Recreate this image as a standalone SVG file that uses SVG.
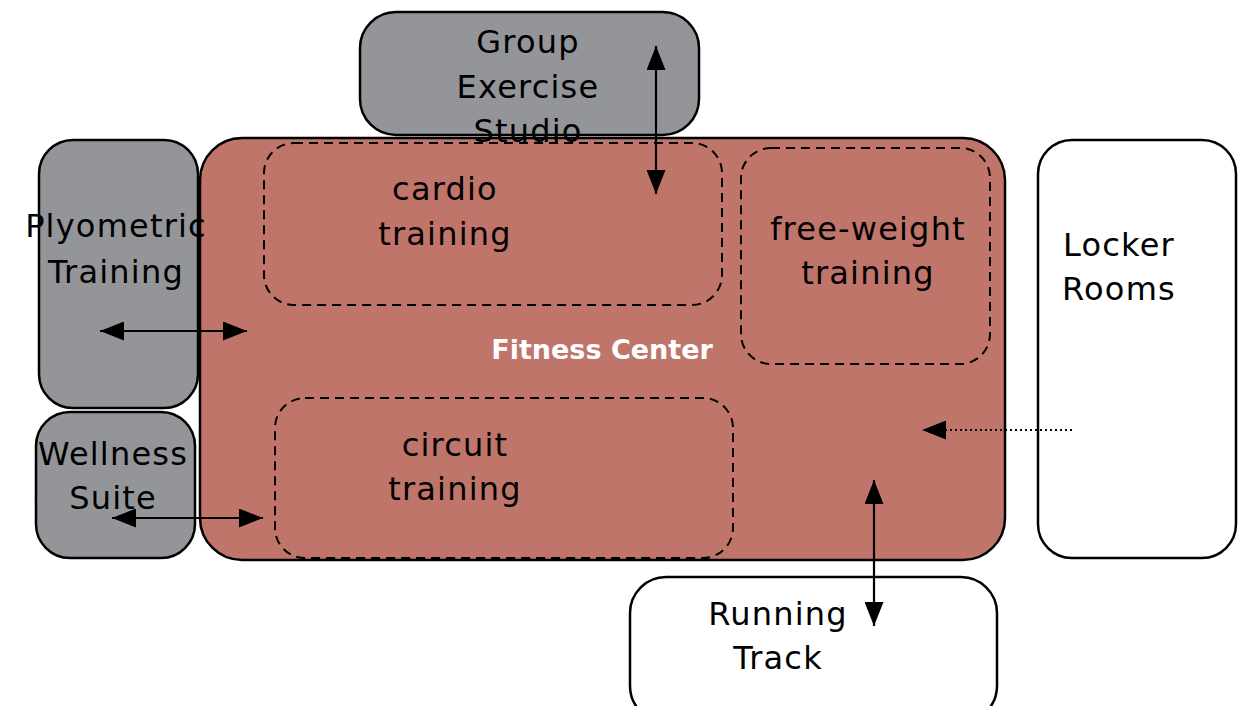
<svg xmlns="http://www.w3.org/2000/svg" width="1247" height="706" viewBox="0 0 1247 706">
<defs>
<style>
.box{stroke:#000;stroke-width:2.5}
.gray{fill:#939598}
.white{fill:#fff}
.main{fill:#c0756a}
.zone{fill:none;stroke:#000;stroke-width:2;stroke-dasharray:9 6}
.lbl{font-family:"DejaVu Sans","Liberation Sans",sans-serif;font-size:32px;letter-spacing:1.2px;fill:#000;text-anchor:middle}
.title{font-family:"DejaVu Sans","Liberation Sans",sans-serif;font-size:27px;font-weight:bold;fill:#fff;text-anchor:middle}
.con{stroke:#000;stroke-width:2.2;fill:none}
.dot{stroke:#000;stroke-width:2.2;fill:none;stroke-dasharray:2 3}
</style>
<marker id="ah" viewBox="0 0 24 19" refX="24" refY="9.5" markerWidth="24" markerHeight="19" markerUnits="userSpaceOnUse" orient="auto-start-reverse">
<path d="M0,0 L24,9.5 L0,19 Z" fill="#000"/>
</marker>
</defs>

<g id="fitness-center">
<rect class="box main" x="200" y="138" width="805" height="422" rx="42"/>
<text class="title" x="602" y="359">Fitness Center</text>
</g>

<g id="group-exercise-studio">
<rect class="box gray" x="360" y="12" width="339" height="123" rx="36"/>
<text class="lbl" x="528" y="53">Group</text>
<text class="lbl" x="528" y="98">Exercise</text>
<text class="lbl" x="528" y="142">Studio</text>
</g>

<g id="plyometric-training">
<rect class="box gray" x="39" y="140" width="159" height="268" rx="34"/>
<text class="lbl" x="116" y="237">Plyometric</text>
<text class="lbl" x="116" y="283">Training</text>
</g>

<g id="wellness-suite">
<rect class="box gray" x="36" y="412" width="159" height="146" rx="34"/>
<text class="lbl" x="113" y="465">Wellness</text>
<text class="lbl" x="113" y="509">Suite</text>
</g>

<g id="locker-rooms">
<rect class="box white" x="1038" y="140" width="198" height="418" rx="34"/>
<text class="lbl" x="1119" y="256">Locker</text>
<text class="lbl" x="1119" y="300">Rooms</text>
</g>

<g id="running-track">
<rect class="box white" x="630" y="577" width="367" height="145" rx="36"/>
<text class="lbl" x="778" y="625">Running</text>
<text class="lbl" x="778" y="669">Track</text>
</g>

<g id="cardio-training">
<rect class="zone" x="264" y="143" width="458" height="162" rx="30"/>
<text class="lbl" x="445" y="200">cardio</text>
<text class="lbl" x="445" y="245">training</text>
</g>

<g id="free-weight-training">
<rect class="zone" x="741" y="148" width="249" height="216" rx="30"/>
<text class="lbl" x="868" y="240">free-weight</text>
<text class="lbl" x="868" y="284">training</text>
</g>

<g id="circuit-training">
<rect class="zone" x="275" y="398" width="458" height="160" rx="30"/>
<text class="lbl" x="455" y="456">circuit</text>
<text class="lbl" x="455" y="500">training</text>
</g>

<g id="connectors">
<line class="con" x1="656" y1="46" x2="656" y2="194" marker-start="url(#ah)" marker-end="url(#ah)"/>
<line class="con" x1="100" y1="331" x2="247" y2="331" marker-start="url(#ah)" marker-end="url(#ah)"/>
<line class="con" x1="112" y1="518" x2="263" y2="518" marker-start="url(#ah)" marker-end="url(#ah)"/>
<line class="dot" x1="1072" y1="430" x2="922" y2="430" marker-end="url(#ah)"/>
<line class="con" x1="874" y1="480" x2="874" y2="626" marker-start="url(#ah)" marker-end="url(#ah)"/>
</g>
</svg>
